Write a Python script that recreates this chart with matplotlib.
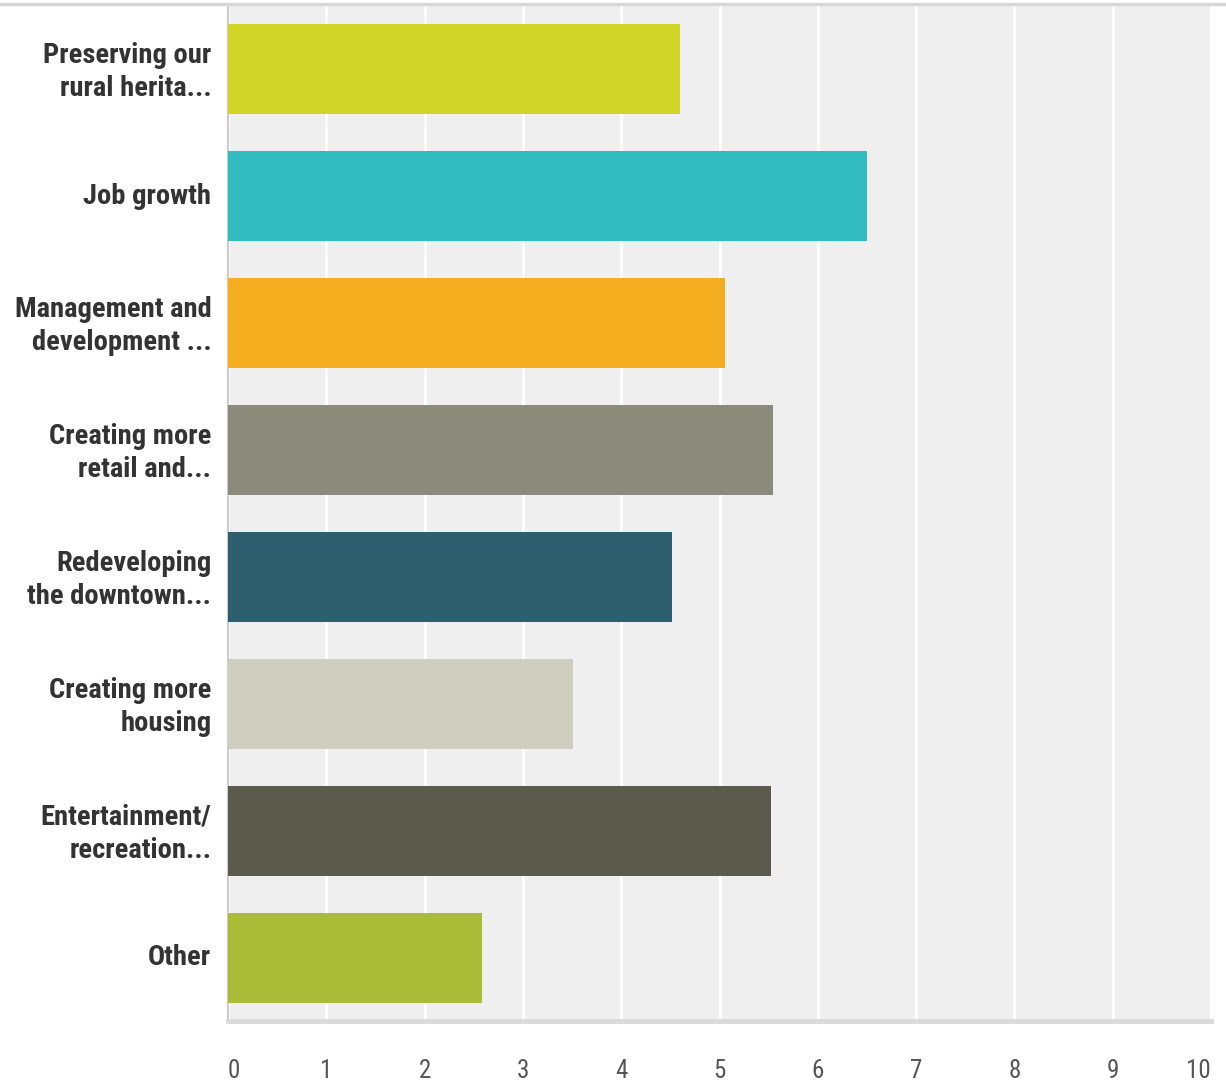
import matplotlib
matplotlib.use("Agg")
import matplotlib.pyplot as plt
from matplotlib.lines import Line2D
from matplotlib.transforms import ScaledTranslation

plt.rcParams.update({"font.family": ["Roboto Condensed", "Liberation Sans Narrow", "Roboto", "DejaVu Sans"]})

# ---- data ----
labels = ["Preserving our\nrural herita...", "Job growth", "Management and\ndevelopment ...",
          "Creating more\nretail and...", "Redeveloping\nthe downtown...", "Creating more\nhousing",
          "Entertainment/\nrecreation...", "Other"]
values = [4.60, 6.50, 5.06, 5.54, 4.52, 3.51, 5.52, 2.58]
colors = ["#cfd427", "#33bcbf", "#f5ae1f", "#8a8b7a", "#2d5f6e", "#cfcdbe", "#5b5a4d", "#a8bc38"]
ticks = list(range(0, 11))

fig = plt.figure(figsize=(12.26, 10.81), dpi=100)
ax = fig.add_axes([228/1226, 1 - 1021/1081, (1211-228)/1226, (1021-6)/1081])
ax.set_facecolor("#efefef")

y = list(range(len(labels)))
ax.barh(y, values, height=0.71, color=colors, zorder=3)
ax.set_ylim(len(labels) - 0.5, -0.5)
ax.set_xlim(0, 10)

ax.set_xticks(ticks)
ax.set_xticklabels([str(t) for t in ticks], fontsize=18, color="#555555")
ax.tick_params(axis="x", length=0, pad=27)
xl = ax.get_xticklabels()
xl[0].set_ha("left")
xl[-1].set_ha("right")
ax.set_yticks(y)
ax.set_yticklabels(labels, fontsize=20.5, fontweight="bold", color="#333333", linespacing=1.28)
ax.tick_params(axis="y", length=0, pad=12)
# nudge category labels up a few pixels
up = ScaledTranslation(0, 3/100, fig.dpi_scale_trans)
for t in ax.get_yticklabels():
    t.set_transform(t.get_transform() + up)

ax.grid(axis="x", color="white", lw=2, zorder=1)
ax.set_axisbelow(True)

for s in ["top", "right"]:
    ax.spines[s].set_visible(False)
ax.spines["left"].set_color("#cccccc")
ax.spines["left"].set_linewidth(1.5)
ax.spines["bottom"].set_color("#dadada")
ax.spines["bottom"].set_linewidth(3.5)

# thin border across the top of the page
fig.add_artist(Line2D([0, 1], [1 - 4/1081, 1 - 4/1081], color="#d8d8d8", lw=2.5))

fig.savefig("out.png", dpi=100, facecolor="white")
